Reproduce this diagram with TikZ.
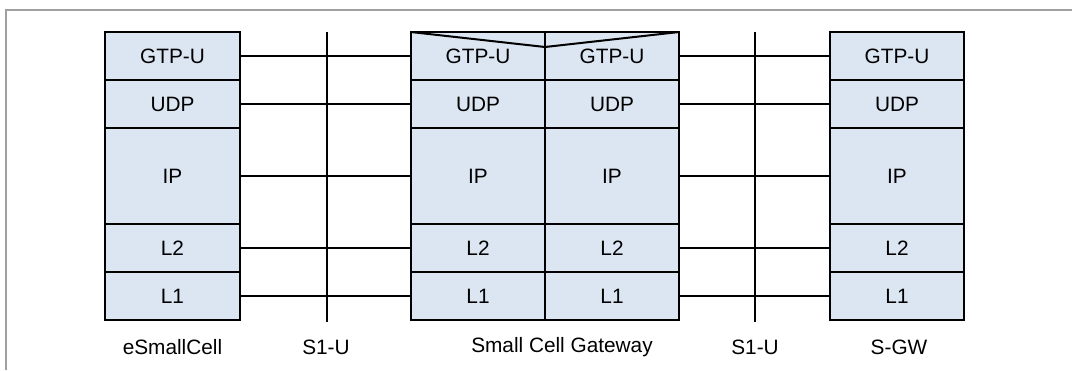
\documentclass[tikz,border=0pt]{standalone}
\usepackage{fontspec}
\setmainfont{Liberation Sans}
\definecolor{cellblue}{RGB}{220,230,242}
\definecolor{framegray}{RGB}{160,160,160}
\begin{document}
\begin{tikzpicture}[x=1pt,y=-1pt,
  txt/.style={font=\fontsize{20.8}{24}\selectfont},
  cell/.style={txt, draw=black, line width=2pt, fill=cellblue, minimum width=134.5pt, inner sep=0pt, outer sep=0pt},
  row/.style={cell, minimum height=48pt},
  iprow/.style={cell, minimum height=96pt},
  link/.style={draw=black, line width=2pt},
  lbl/.style={txt}
]
\useasboundingbox (0,0) rectangle (1072,370);
\draw[framegray, line width=2pt] (1072,10) -- (6,10) -- (6,370);

% protocol stacks
\foreach \n/\y/\t/\s in {gtp/56/GTP-U/row, udp/104/UDP/row, ip/176/IP/iprow, ltwo/248/L2/row, lone/296/L1/row}{
  \node[\s] (a-\n) at (172.5,\y) {\t};
  \node[\s] (g-\n) at (478,\y) {\t};
  \node[\s] (h-\n) at (612,\y) {\t};
  \node[\s] (s-\n) at (897,\y) {\t};
}

% gateway top V
\coordinate (vmid) at (545,47);
\draw[link, line join=miter] (g-gtp.north west) -- (vmid) -- (h-gtp.north east);

% S1-U reference lines
\coordinate (s1a-top) at (327,32);
\coordinate (s1a-bot) at (327,322);
\coordinate (s1b-top) at (755,32);
\coordinate (s1b-bot) at (755,322);
\draw[link] (s1a-top) -- (s1a-bot);
\draw[link] (s1b-top) -- (s1b-bot);

% connectors
\foreach \n in {gtp,udp,ip,ltwo,lone}{
  \draw[link] (a-\n.east) -- (g-\n.west);
  \draw[link] (h-\n.east) -- (s-\n.west);
}

% labels
\node[lbl] (l-enb) at (172.5,347) {eSmallCell};
\node[lbl] (l-s1a) at (326,347) {S1-U};
\node[lbl] (l-gw) at (562,347) {Small Cell Gateway};
\node[lbl] (l-s1b) at (755,347) {S1-U};
\node[lbl] (l-sgw) at (899,347) {S-GW};
\end{tikzpicture}
\end{document}
